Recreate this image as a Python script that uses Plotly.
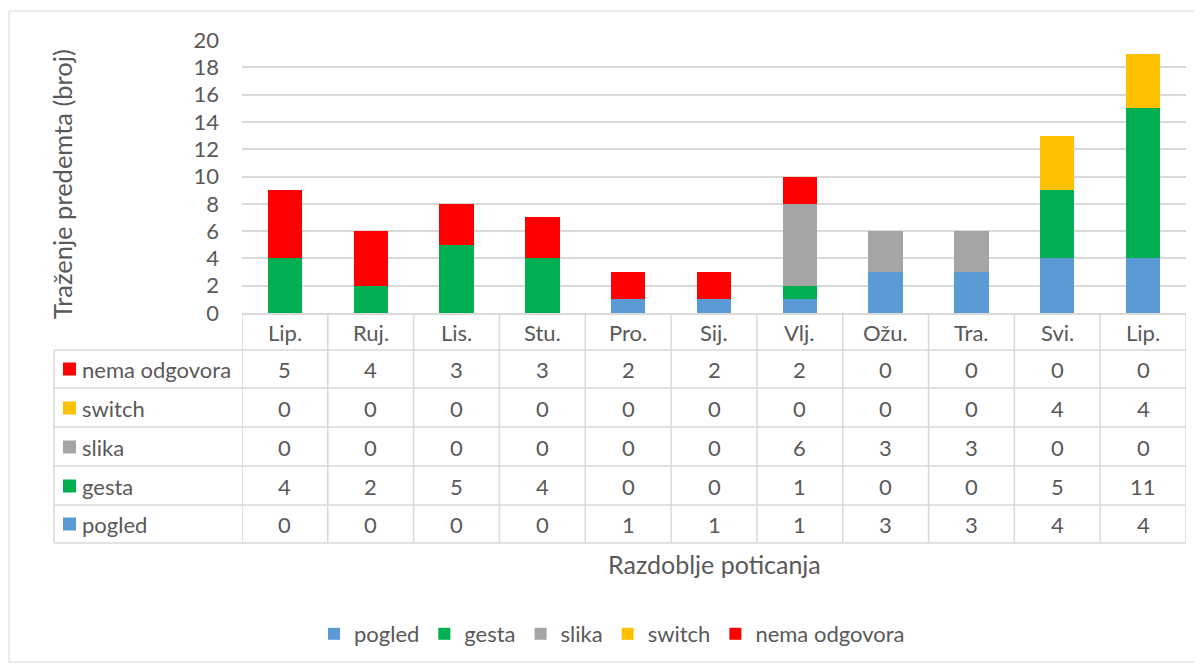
import plotly.graph_objects as go

categories = ["Lip.", "Ruj.", "Lis.", "Stu.", "Pro.", "Sij.", "Vlj.", "Ožu.", "Tra.", "Svi.", "Lip."]
series_names = ["pogled", "gesta", "slika", "switch", "nema odgovora"]
pogled = [0, 0, 0, 0, 1, 1, 1, 3, 3, 4, 4]
gesta = [4, 2, 5, 4, 0, 0, 1, 0, 0, 5, 11]
slika = [0, 0, 0, 0, 0, 0, 6, 3, 3, 0, 0]
switch = [0, 0, 0, 0, 0, 0, 0, 0, 0, 4, 4]
nema_odgovora = [5, 4, 3, 3, 2, 2, 2, 0, 0, 0, 0]
colors = ["#5B9BD5", "#00B050", "#A5A5A5", "#FFC000", "#FF0000"]
y_title = "Traženje predemta (broj)"
x_title = "Razdoblje poticanja"

series_values = [pogled, gesta, slika, switch, nema_odgovora]
xs = list(range(len(categories)))

W, H = 1202, 666
OFF = 8  # page body margin
S_L, S_R, S_T, S_B = 242, 1186, 40, 313
L = S_L - OFF
T = S_T - OFF
R = W - (S_R - OFF)
B = H - (S_B - OFF)
pw, ph = W - L - R, H - T - B
FONT = "Lato"
TXT = "#595959"
GRID = "#D9D9D9"
FS = 22

def px_x(px):
    return (px - OFF - L) / pw

def px_y(py):
    return (H - B - (py - OFF)) / ph

fig = go.Figure()
for name, vals, col in zip(series_names, series_values, colors):
    fig.add_trace(go.Bar(x=xs, y=vals, name=name, marker=dict(color=col, line=dict(width=0))))

shapes = []
annotations = []
row_lines = [350, 388, 427, 466, 505, 543]
table_bottom = row_lines[-1]
table_left = 54
for i in range(len(categories) + 1):
    shapes.append(dict(type="line", xref="x", yref="paper", x0=i - 0.5, x1=i - 0.5,
                       y0=px_y(S_B), y1=px_y(table_bottom), line=dict(color=GRID, width=1.5)))
shapes.append(dict(type="line", xref="paper", yref="paper", x0=px_x(table_left), x1=px_x(table_left),
                   y0=px_y(row_lines[0]), y1=px_y(table_bottom), line=dict(color=GRID, width=1.5)))
for ry in row_lines:
    shapes.append(dict(type="line", xref="paper", yref="paper", x0=px_x(table_left), x1=1,
                       y0=px_y(ry), y1=px_y(ry), line=dict(color=GRID, width=1.5)))
shapes.append(dict(type="rect", xref="paper", yref="paper", x0=px_x(9), x1=px_x(1201),
                   y0=px_y(11), y1=px_y(662), line=dict(color=GRID, width=1)))

for i, c in enumerate(categories):
    annotations.append(dict(x=i, y=px_y(332), xref="x", yref="paper", text=c, showarrow=False,
                            xanchor="center", yanchor="middle",
                            font=dict(family=FONT, size=FS, color=TXT)))
row_centers = [369, 408, 447, 486, 524]
order = list(range(len(series_names)))[::-1]
for rc, si in zip(row_centers, order):
    for i, v in enumerate(series_values[si]):
        annotations.append(dict(x=i, y=px_y(rc), xref="x", yref="paper", text=str(v), showarrow=False,
                                xanchor="center", yanchor="middle",
                                font=dict(family=FONT, size=FS, color=TXT)))
    shapes.append(dict(type="rect", xref="paper", yref="paper", x0=px_x(63), x1=px_x(76),
                       y0=px_y(rc - 6.5), y1=px_y(rc + 6.5), fillcolor=colors[si], line=dict(width=0)))
    annotations.append(dict(x=px_x(80), y=px_y(rc), xref="paper", yref="paper", text=series_names[si],
                            showarrow=False, xanchor="left", yanchor="middle",
                            font=dict(family=FONT, size=FS, color=TXT)))

annotations.append(dict(x=px_x(714), y=px_y(564), xref="paper", yref="paper", text=x_title,
                        showarrow=False, xanchor="center", yanchor="middle",
                        font=dict(family=FONT, size=25, color=TXT)))
annotations.append(dict(x=px_x(62), y=px_y(184), xref="paper", yref="paper", text=y_title,
                        showarrow=False, textangle=-90, xanchor="center", yanchor="middle",
                        font=dict(family=FONT, size=25.5, color=TXT)))

fig.update_layout(
    width=W, height=H,
    margin=dict(l=L, r=R, t=T, b=B),
    paper_bgcolor="white", plot_bgcolor="white",
    barmode="stack", bargap=0.6,
    font=dict(family=FONT, size=FS, color=TXT),
    xaxis=dict(range=[-0.5, len(categories) - 0.5], showticklabels=False, showgrid=False,
               zeroline=False, showline=True, linecolor=GRID, linewidth=1.5, ticks=""),
    yaxis=dict(range=[0, 20], dtick=2, showgrid=True, gridcolor=GRID, gridwidth=1.5,
               zeroline=False, ticks="", tickfont=dict(family=FONT, size=FS, color=TXT),
               ticklabelstandoff=22),
    showlegend=True,
    legend=dict(orientation="h", x=px_x(612), xanchor="center", y=px_y(634), yanchor="middle",
                font=dict(family=FONT, size=FS, color=TXT), itemwidth=30, traceorder="normal"),
    shapes=shapes, annotations=annotations,
)

fig.write_html("out.html")
